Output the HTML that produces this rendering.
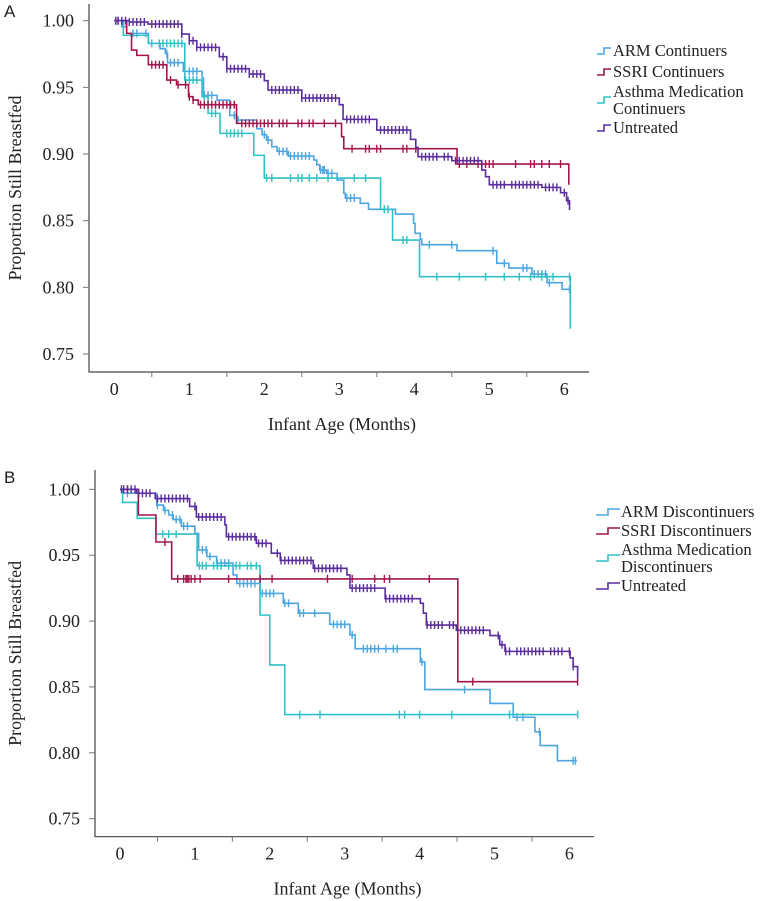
<!DOCTYPE html>
<html><head><meta charset="utf-8"><style>
body{margin:0;background:#fff;}
svg{display:block;}
text{font-family:"Liberation Serif",serif;fill:#222;}
.pl{font-family:"Liberation Sans",sans-serif;font-size:17px;}
</style></head><body>
<svg id="c" width="762" height="901" viewBox="0 0 762 901"></svg>
<script>
// Panel A data (months, proportion)
const aArmT=[0.10,0.165,0.454,0.61,0.68,0.71,0.92,1.17,1.19,1.37,1.54,1.63,1.90,1.97,2.03,2.10,2.17,2.32,2.66,2.70,2.74,2.83,2.97,3.06,3.08,3.28,3.39,3.75,3.99,4.01,4.08,4.10,4.57,5.10,5.26,5.57,5.77,5.97,6.08];
const aArmS=[0.9955,0.9905,0.983,0.979,0.9755,0.9685,0.962,0.957,0.944,0.9405,0.929,0.9255,0.919,0.9145,0.9105,0.9055,0.902,0.8985,0.8955,0.892,0.888,0.8855,0.8805,0.8705,0.867,0.863,0.8585,0.855,0.848,0.8405,0.836,0.832,0.8275,0.818,0.8145,0.81,0.8035,0.7985,0.788];
const aArmC=[0.25,0.3,0.42,0.7,0.75,0.8,0.85,1.0,1.05,1.1,1.2,1.25,1.3,1.6,1.65,2.0,2.05,2.2,2.25,2.3,2.35,2.4,2.45,2.5,2.55,2.6,2.75,2.78,2.8,2.85,2.9,3.1,3.15,3.2,3.6,3.65,4.2,4.5,5.05,5.2,5.45,5.5,5.6,5.65,5.7,5.75,5.8,6.07];
const aSsriT=[0.165,0.23,0.30,0.454,0.70,0.83,0.99,1.05,1.12,1.63,3.03,3.06,4.57,6.06];
const aSsriS=[0.9905,0.978,0.974,0.967,0.9555,0.952,0.943,0.9405,0.937,0.923,0.913,0.904,0.8925,0.877];
const aSsriC=[0.05,0.5,0.55,0.6,0.65,0.75,0.85,0.95,1.0,1.05,1.15,1.2,1.25,1.3,1.35,1.4,1.45,1.5,1.55,1.6,1.7,1.75,1.8,1.85,1.9,1.95,2.0,2.05,2.1,2.2,2.25,2.3,2.45,2.5,2.6,2.65,2.8,2.95,3.17,3.35,3.4,3.5,3.55,3.85,3.9,4.02,4.6,4.7,4.85,4.9,4.95,5.0,5.05,5.35,5.55,5.6,5.7,5.8,5.95];
const aAsthT=[0.12,0.454,0.94,1.17,1.25,1.41,1.86,2.00,3.55,3.71,4.07,6.08];
const aAsthS=[0.989,0.983,0.9555,0.943,0.9305,0.9155,0.899,0.882,0.8585,0.8355,0.808,0.769];
const aAsthC=[0.02,0.5,0.6,0.65,0.7,0.75,0.8,0.85,0.9,0.95,1.0,1.05,1.1,1.2,1.3,1.35,1.5,1.55,1.6,1.65,1.7,2.03,2.1,2.35,2.45,2.5,2.6,2.7,2.85,3.2,3.35,3.6,3.85,3.9,4.3,4.6,4.95,5.2,5.4,5.55,5.7,5.85,6.07];
const aUntT=[0.2,0.45,0.9,1.0,1.1,1.4,1.5,1.8,2.0,2.05,2.5,3.0,3.05,3.5,3.95,4.02,4.05,4.5,4.9,4.95,5.0,5.7,5.95,6.03,6.07];
const aUntS=[0.999,0.9975,0.99,0.985,0.98,0.973,0.964,0.96,0.955,0.948,0.942,0.937,0.926,0.918,0.911,0.905,0.898,0.895,0.888,0.883,0.877,0.875,0.871,0.865,0.858];
const aUntC=[0.02,0.05,0.1,0.15,0.2,0.25,0.3,0.35,0.4,0.5,0.55,0.6,0.65,0.7,0.75,0.8,0.85,0.9,1.0,1.05,1.1,1.15,1.2,1.25,1.3,1.35,1.45,1.5,1.55,1.6,1.65,1.7,1.75,1.8,1.85,1.9,1.95,2.1,2.15,2.2,2.25,2.3,2.35,2.4,2.45,2.5,2.55,2.6,2.65,2.7,2.75,2.8,2.85,2.9,2.95,3.1,3.15,3.2,3.25,3.3,3.35,3.4,3.55,3.6,3.65,3.7,3.75,3.8,3.85,3.9,4.1,4.15,4.2,4.25,4.3,4.4,4.45,4.55,4.6,4.65,4.7,4.75,4.8,4.85,5.05,5.1,5.15,5.2,5.3,5.35,5.4,5.45,5.5,5.55,5.6,5.65,5.75,5.8,5.85,5.9,6.0,6.05];
// Panel B data
const bArmT=[0.045,0.49,0.58,0.65,0.71,0.82,1.00,1.05,1.16,1.29,1.51,1.56,1.87,2.18,2.38,2.80,3.07,3.14,4.01,4.07,4.94,5.25,5.54,5.61,5.84,6.10];
const bArmS=[0.997,0.988,0.984,0.9805,0.977,0.972,0.9665,0.954,0.949,0.944,0.935,0.9285,0.921,0.9135,0.906,0.8975,0.8895,0.879,0.869,0.848,0.8375,0.827,0.816,0.8055,0.794,0.794];
const bArmC=[0.1,0.5,0.6,0.7,0.75,0.8,0.85,0.9,1.1,1.15,1.2,1.3,1.35,1.4,1.45,1.6,1.65,1.7,1.75,1.8,1.9,1.95,2.0,2.05,2.2,2.25,2.4,2.45,2.6,2.85,2.9,2.95,3.0,3.1,3.25,3.3,3.35,3.4,3.45,3.55,3.65,3.7,4.03,4.6,5.3,5.38,5.6,6.05,6.08];
const bSsriT=[0.245,0.48,0.69,4.51,6.11];
const bSsriS=[0.9805,0.96,0.932,0.854,0.854];
const bSsriC=[0.1,0.6,0.77,0.85,0.88,0.9,0.92,0.95,1.0,1.07,1.45,1.87,2.03,2.77,3.1,3.4,3.53,3.6,4.13,4.71,6.11];
const bAsthT=[0.035,0.23,0.48,1.03,1.87,2.00,2.20,6.11];
const bAsthS=[0.99,0.978,0.966,0.942,0.9045,0.8667,0.829,0.829];
const bAsthC=[0.57,0.65,0.75,1.06,1.1,1.15,1.25,1.3,1.35,1.45,1.55,1.6,1.7,1.75,1.82,2.4,2.67,3.73,3.8,4.0,4.43,5.2,5.2,6.11];
const bUntT=[0.22,0.47,0.93,1.02,1.40,1.42,1.82,2.02,2.14,2.58,3.03,3.07,3.54,4.01,4.05,4.09,4.49,4.94,5.07,5.14,6.01,6.05,6.11];
const bUntS=[0.997,0.993,0.987,0.979,0.973,0.964,0.959,0.9515,0.946,0.94,0.935,0.925,0.917,0.9135,0.906,0.897,0.893,0.889,0.882,0.877,0.872,0.8655,0.857];
const bUntC=aUntC;
const yTicks=[1.00,0.95,0.90,0.85,0.80,0.75];
const yTickLabels=["1.00","0.95","0.90","0.85","0.80","0.75"];
const xTicks=[0,1,2,3,4,5,6];
const xTickMarks=[0.5,1.5,2.5,3.5,4.5,5.5];
const COL={arm:"#4ba6e2",ssri:"#a3164d",asth:"#2fc1c6",unt:"#5a2d9e"};

const NS="http://www.w3.org/2000/svg";
const svg=document.getElementById('c');
function mk(tag,attrs,parent){const e=document.createElementNS(NS,tag);for(const k in attrs)e.setAttribute(k,attrs[k]);(parent||svg).appendChild(e);return e;}

function panel(P){
  const g=mk('g',{});
  
  
  const X=m=>P.x0+m*P.xs, Y=v=>P.y1+(1-v)*P.ys;
  const ax=mk('path',{d:`M${P.axL} ${P.top}V${P.axB}H${P.axR}`,stroke:'#444',fill:'none','stroke-width':1.2},g);
  
  
  yTicks.forEach((v,i)=>{
    mk('line',{x1:P.axL-6,x2:P.axL,y1:Y(v),y2:Y(v),stroke:'#777'},g);
    const t=mk('text',{x:P.axL-15,y:Y(v)+6,'text-anchor':'end','font-size':18},g);
    t.textContent=yTickLabels[i];
    
    
  });
  xTickMarks.forEach(m=>mk('line',{x1:X(m),x2:X(m),y1:P.axB,y2:P.axB+5,stroke:'#777'},g));
  xTicks.forEach(m=>{
    const t=mk('text',{x:X(m),y:P.axB+23,'text-anchor':'middle','font-size':18},g);
    t.textContent=String(m);
    
    
  });
  const xt=mk('text',{x:(P.axL+P.axR)/2+3,y:P.axB+58,'text-anchor':'middle','font-size':18},g);
  xt.textContent='Infant Age (Months)';
  
  
  const yt=mk('text',{x:0,y:0,'text-anchor':'middle','font-size':18,transform:`translate(21,${(P.top+P.axB)/2}) rotate(-90)`},g);
  yt.textContent='Proportion Still Breastfed';
  
  
  const pl=mk('text',{x:4,y:P.top+13,'class':'pl'},g);
  pl.textContent=P.label;
  
  
  P.series.forEach(s=>{
    let d=`M${X(0)} ${Y(1)}`;
    s.t.forEach((t,i)=>{d+=`H${X(t)}V${Y(s.s[i])}`;});
    const p=mk('path',{d,stroke:s.c,fill:'none','stroke-width':1.6},g);
    
    
    let cd='';
    s.cen.forEach(ct=>{
      let v=1;for(let i=0;i<s.t.length;i++){if(s.t[i]<=ct)v=s.s[i];}
      cd+=`M${X(ct)} ${Y(v)-4}v8`;
    });
    const cp=mk('path',{d:cd,stroke:s.c,fill:'none','stroke-width':1.4},g);
    
    
  });
  P.legend.forEach((L,i)=>{
    const lg=mk('g',{},g);
    
    
    const ix=P.lx, iy=L.iy;
    mk('path',{d:`M${ix} ${iy+3}H${ix+P.iw/2}V${iy-3}H${ix+P.iw}`,stroke:L.c,fill:'none','stroke-width':1.6},lg);
    L.lines.forEach((ln,j)=>{
      const t=mk('text',{x:P.tx,y:L.ty+j*17,'font-size':16.5},lg);
      t.textContent=ln;
    });
  });
}

panel({name:'panel-a',label:'A',top:4,axL:89,axB:372,axR:589,x0:114.3,xs:75,y1:20.7,ys:1333.3,
  series:[
    {key:'arm',t:aArmT,s:aArmS,cen:aArmC,c:COL.arm},
    {key:'asthma',t:aAsthT,s:aAsthS,cen:aAsthC,c:COL.asth},
    {key:'ssri',t:aSsriT,s:aSsriS,cen:aSsriC,c:COL.ssri},
    {key:'untreated',t:aUntT,s:aUntS,cen:aUntC,c:COL.unt}],
  lx:597,iw:14,tx:613,
  legend:[
    {c:COL.arm,iy:51,ty:56,lines:['ARM Continuers']},
    {c:COL.ssri,iy:72,ty:77,lines:['SSRI Continuers']},
    {c:COL.asth,iy:100,ty:97,lines:['Asthma Medication','Continuers']},
    {c:COL.unt,iy:128,ty:133,lines:['Untreated']}]
});
panel({name:'panel-b',label:'B',top:470,axL:95,axB:836.7,axR:594,x0:120,xs:74.9,y1:489.3,ys:1317.6,
  series:[
    {key:'arm',t:bArmT,s:bArmS,cen:bArmC,c:COL.arm},
    {key:'asthma',t:bAsthT,s:bAsthS,cen:bAsthC,c:COL.asth},
    {key:'ssri',t:bSsriT,s:bSsriS,cen:bSsriC,c:COL.ssri},
    {key:'untreated',t:bUntT,s:bUntS,cen:bUntC,c:COL.unt}],
  lx:596,iw:24,tx:621,
  legend:[
    {c:COL.arm,iy:512,ty:517,lines:['ARM Discontinuers']},
    {c:COL.ssri,iy:531,ty:536,lines:['SSRI Discontinuers']},
    {c:COL.asth,iy:558,ty:555,lines:['Asthma Medication','Discontinuers']},
    {c:COL.unt,iy:586,ty:591,lines:['Untreated']}]
});
</script>
</body></html>
